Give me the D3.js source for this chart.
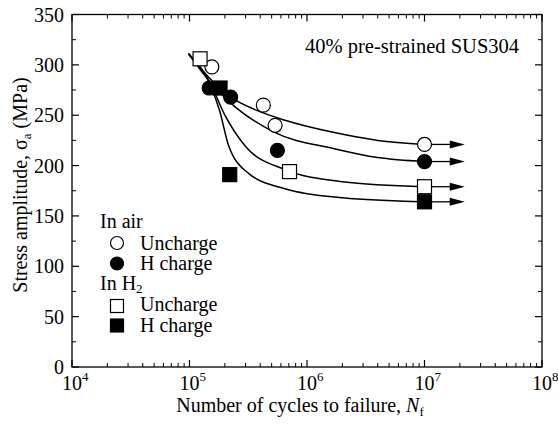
<!DOCTYPE html>
<html>
<head>
<meta charset="utf-8">
<script src="https://cdnjs.cloudflare.com/ajax/libs/d3/7.8.5/d3.min.js"></script>
<style>
    body { margin: 0; background: #fff; }
    svg text { font-family: "Liberation Serif", "Times New Roman", serif; fill: #000; }
</style>
</head>
<body>
<div id="visualisatie"></div>
<script>
// Data (N = cycles to failure, S = stress amplitude in MPa)
var airUnchargeN = [1.55e5, 4.25e5, 5.35e5, 1e7],
    airUnchargeS = [298, 260, 240, 221];
var airHchargeN = [1.47e5, 2.24e5, 5.6e5, 1e7],
    airHchargeS = [277, 268, 215, 204];
var h2UnchargeN = [1.23e5, 7.1e5, 1e7],
    h2UnchargeS = [306, 194, 179];
var h2HchargeN = [1.82e5, 2.2e5, 1e7],
    h2HchargeS = [277, 191, 164];

// fitted curves
var curveAirUn = [[9.8e4, 311], [1.45e5, 288], [2.25e5, 268], [3.7e5, 255], [6.5e5, 245], [1.67e6, 233], [4e6, 225], [1e7, 221]];
var curveAirH = [[9.8e4, 311], [1.45e5, 285], [2.2e5, 263], [5.3e5, 233], [1.67e6, 217], [4e6, 208], [1e7, 204]];
var curveH2Un = [[9.8e4, 311], [1.5e5, 282], [2.0e5, 250], [3.0e5, 219], [6.5e5, 196], [2e6, 184], [1e7, 179]];
var curveH2H = [[9.8e4, 311], [1.5e5, 280], [1.8e5, 255], [2.15e5, 220], [3.2e5, 192], [6.5e5, 177], [2e6, 168], [1e7, 164]];

// run-outs (no failure) at 1e7 with arrows
var runoutS = [221, 204, 179, 164];
var runoutTo = 2.2e7;

var yTicks = [0, 50, 100, 150, 200, 250, 300, 350];
var xDecades = [4, 5, 6, 7, 8];

var width = 558, height = 425;
var pLeft = 72, pRight = 542, pTop = 14.5, pBottom = 367;

var svg = d3.select("#visualisatie").append("svg")
    .attr("width", width)
    .attr("height", height);

var x = d3.scaleLog().domain([1e4, 1e8]).range([pLeft, pRight]);
var y = d3.scaleLinear().domain([0, 350]).range([pBottom, pTop]);

// minor ticks
var xMinor = [];
xDecades.slice(0, -1).forEach(function (e) {
    for (var k = 2; k <= 9; k++) xMinor.push(k * Math.pow(10, e));
});
var yMinor = d3.range(25, 350, 50);

var ax = svg.append("g").attr("class", "axes");

// bottom / top ticks (inward)
[[pBottom, -1], [pTop, 1]].forEach(function (p) {
    ax.selectAll(null).data(xDecades).enter().append("line")
        .attr("x1", d => x(Math.pow(10, d))).attr("x2", d => x(Math.pow(10, d)))
        .attr("y1", p[0]).attr("y2", p[0] + p[1] * 7)
        .attr("stroke", "#000").attr("stroke-width", 1.2);
    ax.selectAll(null).data(xMinor).enter().append("line")
        .attr("x1", d => x(d)).attr("x2", d => x(d))
        .attr("y1", p[0]).attr("y2", p[0] + p[1] * 4)
        .attr("stroke", "#000").attr("stroke-width", 1);
});

// left / right ticks (inward)
[[pLeft, 1], [pRight, -1]].forEach(function (p) {
    ax.selectAll(null).data(yTicks).enter().append("line")
        .attr("y1", d => y(d)).attr("y2", d => y(d))
        .attr("x1", p[0]).attr("x2", p[0] + p[1] * 7)
        .attr("stroke", "#000").attr("stroke-width", 1.2);
    ax.selectAll(null).data(yMinor).enter().append("line")
        .attr("y1", d => y(d)).attr("y2", d => y(d))
        .attr("x1", p[0]).attr("x2", p[0] + p[1] * 4)
        .attr("stroke", "#000").attr("stroke-width", 1);
});

ax.append("rect")
    .attr("x", pLeft).attr("y", pTop)
    .attr("width", pRight - pLeft).attr("height", pBottom - pTop)
    .attr("fill", "none").attr("stroke", "#000").attr("stroke-width", 1.3);

// tick labels
ax.selectAll(null).data(yTicks).enter().append("text")
    .attr("x", pLeft - 8).attr("y", d => y(d))
    .attr("dy", "0.35em")
    .attr("text-anchor", "end")
    .style("font-size", "20px")
    .text(d => d);

var xl = ax.selectAll(null).data(xDecades).enter().append("text")
    .attr("x", d => x(Math.pow(10, d)) - 10)
    .attr("y", 390)
    .style("font-size", "20px");
xl.append("tspan").text("10");
xl.append("tspan").attr("dy", -9).style("font-size", "13px").text(d => d);

// axis titles
svg.append("text")
    .attr("x", 300).attr("y", 412)
    .attr("text-anchor", "middle")
    .style("font-size", "20px")
    .call(function (t) {
        t.append("tspan").text("Number of cycles to failure, ");
        t.append("tspan").style("font-style", "italic").text("N");
        t.append("tspan").attr("dy", 4).style("font-size", "13px").text("f");
    });

svg.append("text")
    .attr("transform", "translate(27,185) rotate(-90)")
    .attr("text-anchor", "middle")
    .style("font-size", "20px")
    .call(function (t) {
        t.append("tspan").text("Stress amplitude, \u03c3");
        t.append("tspan").attr("dy", 4).style("font-size", "13px").text("a");
        t.append("tspan").attr("dy", -4).text(" (MPa)");
    });

svg.append("text")
    .attr("x", 305).attr("y", 53)
    .style("font-size", "20.5px")
    .text("40% pre-strained SUS304");

// curves
var line = d3.line()
    .x(d => x(d[0]))
    .y(d => y(d[1]))
    .curve(d3.curveMonotoneX);

svg.append("g").selectAll("path")
    .data([curveAirUn, curveAirH, curveH2Un, curveH2H])
    .enter().append("path")
    .attr("d", line)
    .attr("fill", "none")
    .attr("stroke", "#000")
    .attr("stroke-width", 1.5);

// run-out arrows
var arr = svg.append("g").selectAll("g").data(runoutS).enter().append("g");
arr.append("line")
    .attr("x1", x(1e7)).attr("x2", x(runoutTo) - 10)
    .attr("y1", d => y(d)).attr("y2", d => y(d))
    .attr("stroke", "#000").attr("stroke-width", 1.3);
arr.append("path")
    .attr("d", function (d) {
        var tx = x(runoutTo), ty = y(d);
        return "M" + tx + "," + ty + "L" + (tx - 15) + "," + (ty - 4) + "L" + (tx - 15) + "," + (ty + 4) + "Z";
    })
    .attr("fill", "#000");

// markers
var sym = svg.append("g");
function circles(N, S, fill) {
    sym.selectAll(null).data(d3.zip(N, S)).enter().append("circle")
        .attr("cx", d => x(d[0])).attr("cy", d => y(d[1]))
        .attr("r", 7)
        .attr("fill", fill).attr("stroke", "#000").attr("stroke-width", 1.2);
}
function squares(N, S, fill) {
    sym.selectAll(null).data(d3.zip(N, S)).enter().append("rect")
        .attr("x", d => x(d[0]) - 7).attr("y", d => y(d[1]) - 7)
        .attr("width", 14).attr("height", 14)
        .attr("fill", fill).attr("stroke", "#000").attr("stroke-width", 1.2);
}
circles(airUnchargeN, airUnchargeS, "#fff");
squares(h2UnchargeN, h2UnchargeS, "#fff");
squares(h2HchargeN, h2HchargeS, "#000");
circles(airHchargeN, airHchargeS, "#000");

// legend
var lg = svg.append("g").style("font-size", "20px");
var lx = 117, tx = 140;
lg.append("text").attr("x", 100).attr("y", 228).text("In air");
lg.append("circle").attr("cx", lx).attr("cy", 243).attr("r", 6.5)
    .attr("fill", "#fff").attr("stroke", "#000").attr("stroke-width", 1.2);
lg.append("text").attr("x", tx).attr("y", 250).text("Uncharge");
lg.append("circle").attr("cx", lx).attr("cy", 263.5).attr("r", 6.5)
    .attr("fill", "#000").attr("stroke", "#000").attr("stroke-width", 1.2);
lg.append("text").attr("x", tx).attr("y", 270).text("H charge");
lg.append("text").attr("x", 100).attr("y", 290)
    .call(function (t) {
        t.append("tspan").text("In H");
        t.append("tspan").attr("dy", 3).style("font-size", "13px").text("2");
    });
lg.append("rect").attr("x", lx - 6.5).attr("y", 299.5).attr("width", 13).attr("height", 13)
    .attr("fill", "#fff").attr("stroke", "#000").attr("stroke-width", 1.2);
lg.append("text").attr("x", tx).attr("y", 311).text("Uncharge");
lg.append("rect").attr("x", lx - 6.5).attr("y", 319).attr("width", 13).attr("height", 13)
    .attr("fill", "#000").attr("stroke", "#000").attr("stroke-width", 1.2);
lg.append("text").attr("x", tx).attr("y", 331.5).text("H charge");
</script>
</body>
</html>
